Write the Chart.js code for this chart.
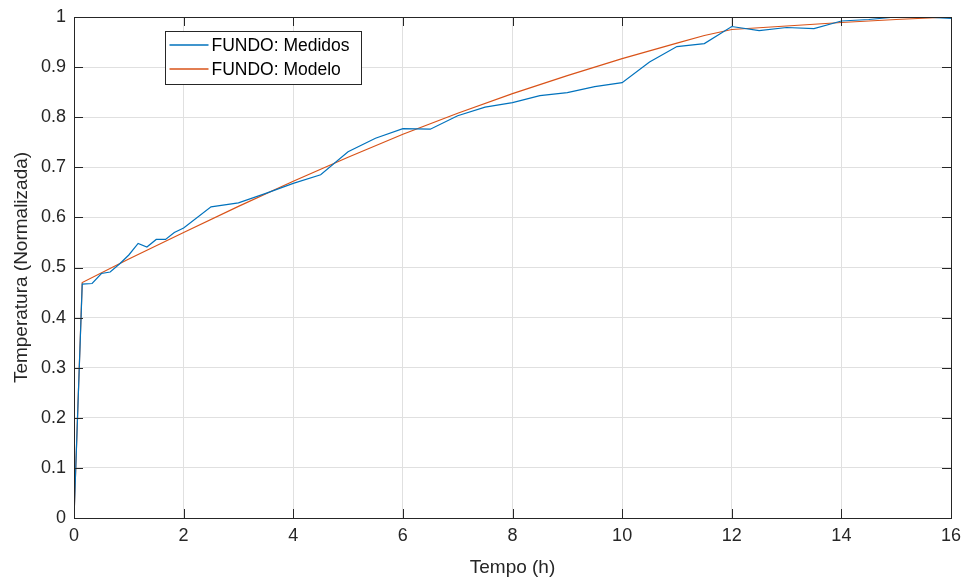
<!DOCTYPE html>
<html>
<head>
<meta charset="utf-8">
<script src="https://cdn.jsdelivr.net/npm/chart.js@4"></script>
<style>
  html, body { margin: 0; padding: 0; background: #fff; }
  #wrap { width: 966px; height: 583px; }
</style>
</head>
<body>
<div id="wrap"><canvas id="chart"></canvas></div>
<script>
// measured data (FUNDO)
const timeMeasured = [0, 0.15, 0.33, 0.5, 0.66, 0.84, 1.0, 1.17, 1.33, 1.5, 1.67, 1.83, 2.0, 2.5, 3.0, 3.5, 4.0, 4.5, 5.0, 5.5, 6.0, 6.5, 7.0, 7.5, 8.0, 8.5, 9.0, 9.5, 10.0, 10.5, 11.0, 11.5, 12.0, 12.5, 13.0, 13.5, 14.0, 14.5, 15.0, 15.5, 16.0];
const tempMeasured = [0, 0.467, 0.468, 0.488, 0.491, 0.508, 0.525, 0.548, 0.541, 0.556, 0.556, 0.570, 0.579, 0.621, 0.629, 0.648, 0.668, 0.685, 0.731, 0.758, 0.777, 0.776, 0.803, 0.820, 0.829, 0.843, 0.849, 0.861, 0.869, 0.910, 0.941, 0.947, 0.981, 0.973, 0.979, 0.977, 0.992, 0.995, 1.0, 1.0, 0.997];

// model curve (FUNDO)
const timeModel = [0, 0.15, 1, 2, 3, 4, 5, 6, 7, 8, 9, 10, 11, 11.5, 12, 13, 14, 15, 16];
const tempModel = [0, 0.470, 0.517, 0.570, 0.622, 0.672, 0.720, 0.766, 0.808, 0.847, 0.883, 0.917, 0.948, 0.963, 0.975, 0.982, 0.989, 0.995, 1.0];

const seriesLabels = ["FUNDO: Medidos", "FUNDO: Modelo"];
const seriesColors = ["#0072BD", "#D95319"];

const xTicks = [0, 2, 4, 6, 8, 10, 12, 14, 16];
const yTicks = [0, 0.1, 0.2, 0.3, 0.4, 0.5, 0.6, 0.7, 0.8, 0.9, 1];

const FONT = "'Liberation Sans', Arial, Helvetica, sans-serif";
const INK = "#262626";

function toPoints(xs, ys) {
    return xs.map((x, i) => ({ x: x, y: ys[i] }));
}

// box around the axes with inward ticks, like MATLAB
const boxPlugin = {
    id: "boxPlugin",
    afterDatasetsDraw(chart) {
        const ctx = chart.ctx;
        const a = chart.chartArea;
        const xs = chart.scales.x;
        const ys = chart.scales.y;
        ctx.save();
        ctx.strokeStyle = INK;
        ctx.lineWidth = 1;
        ctx.beginPath();
        xTicks.forEach(v => {
            const px = Math.round(xs.getPixelForValue(v)) + 0.5;
            ctx.moveTo(px, a.bottom); ctx.lineTo(px, a.bottom - 9);
            ctx.moveTo(px, a.top); ctx.lineTo(px, a.top + 9);
        });
        yTicks.forEach(v => {
            const py = Math.round(ys.getPixelForValue(v)) + 0.5;
            ctx.moveTo(a.left, py); ctx.lineTo(a.left + 9, py);
            ctx.moveTo(a.right, py); ctx.lineTo(a.right - 9, py);
        });
        ctx.stroke();
        ctx.strokeRect(Math.round(a.left) + 0.5, Math.round(a.top) + 0.5,
            Math.round(a.right - a.left), Math.round(a.bottom - a.top));
        ctx.restore();
    }
};

// legend box inside the plot, top left
const insideLegend = {
    id: "insideLegend",
    afterDraw(chart) {
        const ctx = chart.ctx;
        const x0 = 165.5, y0 = 31.5, w = 196, h = 53;
        ctx.save();
        ctx.fillStyle = "#fff";
        ctx.fillRect(x0, y0, w, h);
        ctx.strokeStyle = INK;
        ctx.lineWidth = 1;
        ctx.strokeRect(x0, y0, w, h);
        ctx.font = "17.5px " + FONT;
        ctx.textBaseline = "middle";
        seriesLabels.forEach((label, i) => {
            const cy = Math.round(y0 + 13.5 + i * 23.5);
            ctx.strokeStyle = seriesColors[i];
            ctx.lineWidth = 1.3;
            ctx.beginPath();
            ctx.moveTo(x0 + 4, cy);
            ctx.lineTo(x0 + 43, cy);
            ctx.stroke();
            ctx.fillStyle = "#000";
            ctx.fillText(label, x0 + 46, cy + 1);
        });
        ctx.restore();
    }
};

new Chart(document.getElementById("chart"), {
    type: "scatter",
    data: {
        datasets: [
            {
                label: seriesLabels[0],
                data: toPoints(timeMeasured, tempMeasured),
                borderColor: seriesColors[0],
                backgroundColor: seriesColors[0],
                showLine: true,
                borderWidth: 1.2,
                pointRadius: 0,
                tension: 0
            },
            {
                label: seriesLabels[1],
                data: toPoints(timeModel, tempModel),
                borderColor: seriesColors[1],
                backgroundColor: seriesColors[1],
                showLine: true,
                borderWidth: 1.2,
                pointRadius: 0,
                tension: 0
            }
        ]
    },
    options: {
        responsive: true,
        maintainAspectRatio: false,
        animation: false,
        layout: { padding: { top: 17, right: 15, left: 6, bottom: 0 } },
        plugins: {
            legend: { display: false },
            tooltip: { enabled: false }
        },
        scales: {
            x: {
                type: "linear",
                min: 0,
                max: 16,
                afterBuildTicks: s => { s.ticks = xTicks.map(v => ({ value: v })); },
                afterFit: s => { s.height = 65; s.paddingLeft = 0; s.paddingRight = 0; },
                grid: { color: "#e0e0e0", drawTicks: false },
                border: { display: false },
                ticks: { color: INK, font: { family: FONT, size: 18 }, padding: 7 },
                title: { display: true, text: "Tempo (h)", color: INK, font: { family: FONT, size: 19 }, padding: { top: 2 } }
            },
            y: {
                type: "linear",
                min: 0,
                max: 1,
                afterBuildTicks: s => { s.ticks = yTicks.map(v => ({ value: v })); },
                afterFit: s => { s.width = 68; s.paddingTop = 0; s.paddingBottom = 0; },
                grid: { color: "#e0e0e0", drawTicks: false },
                border: { display: false },
                ticks: {
                    color: INK,
                    font: { family: FONT, size: 18 },
                    padding: 8,
                    callback: v => String(Number(v.toFixed(1)))
                },
                title: { display: true, text: "Temperatura (Normalizada)", color: INK, font: { family: FONT, size: 19 }, padding: { bottom: 2 } }
            }
        }
    },
    plugins: [boxPlugin, insideLegend]
});
</script>
</body>
</html>
